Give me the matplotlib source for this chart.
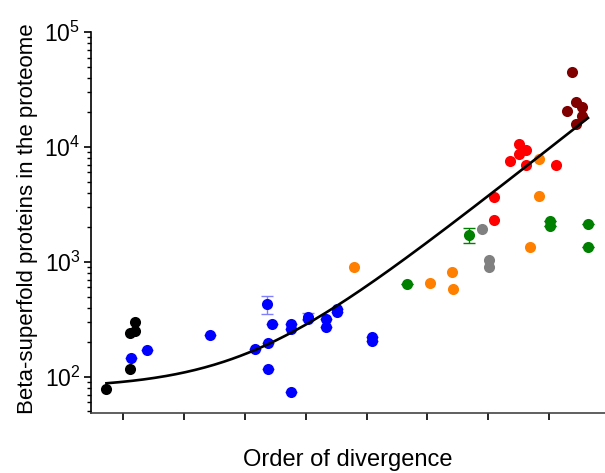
import matplotlib
matplotlib.use("Agg")
import matplotlib.pyplot as plt
import numpy as np

plt.rcParams['font.family'] = ['Liberation Sans', 'DejaVu Sans']
plt.rcParams['mathtext.fontset'] = 'custom'
plt.rcParams['mathtext.rm'] = 'Liberation Sans'

# values (x = order of divergence, y = protein count)
black_x = [0.71, 1.10, 1.10, 1.19, 1.19]
black_y = [79, 117, 243, 253, 301]

blue_x = [1.12, 1.38, 2.43, 3.17, 3.36, 3.44, 3.38, 3.38, 3.75, 3.76, 3.76,
          4.03, 4.04, 4.33, 4.33, 4.51, 4.51, 5.09, 5.09]
blue_y = [145, 172, 233, 174, 429, 287, 196, 117, 74, 289, 263,
          335, 319, 318, 274, 387, 368, 221, 207]
blue_err = [0, 0, 0, 0, 75, 0, 0, 0, 0, 0, 0,
            25, 0, 0, 0, 0, 0, 0, 0]

orange_x = [4.79, 6.04, 6.41, 6.42, 7.84, 7.84, 7.68]
orange_y = [910, 650, 824, 582, 7820, 3775, 1342]

green_x = [5.67, 6.68, 8.02, 8.02, 8.64, 8.64]
green_y = [647, 1706, 2290, 2056, 2127, 1358]
green_err = [0, 250, 0, 0, 0, 0]

grey_x = [6.89, 7.02, 7.02]
grey_y = [1950, 1040, 900]

red_x = [7.10, 7.10, 7.35, 7.51, 7.62, 7.51, 7.62, 8.11]
red_y = [3700, 2320, 7550, 10600, 9420, 8650, 6970, 6970]

darkred_x = [8.37, 8.44, 8.54, 8.29, 8.54, 8.44]
darkred_y = [44600, 24480, 22130, 20560, 18720, 15850]

# fitted curve y = c0 + a * exp(k * x)
fit_c0, fit_a, fit_k = 79.2, 4.41, 0.961
fit_xmin, fit_xmax = 0.72, 8.64

fig = plt.figure(figsize=(6.05, 4.73), dpi=100)
ax = fig.add_axes([0.1512, 0.1279, 0.8488, 0.8044])

ms = 8
ax.errorbar(blue_x, blue_y, yerr=blue_err, fmt='none', ecolor='#8080ff',
            elinewidth=1, capsize=4, zorder=2)
ax.errorbar(green_x, green_y, yerr=green_err, fmt='none', ecolor='#008000',
            elinewidth=1, capsize=4, zorder=2)

groups = [(black_x, black_y, 'black'), (blue_x, blue_y, '#0000ff'),
          (orange_x, orange_y, '#ff8000'), (green_x, green_y, '#008000'),
          (grey_x, grey_y, '#808080'), (red_x, red_y, '#ff0000'),
          (darkred_x, darkred_y, '#800000')]
for gx, gy, col in groups:
    ax.plot(gx, gy, 'o', color=col, ms=ms, mec='none', zorder=3)

xs = np.linspace(fit_xmin, fit_xmax, 300)
ax.plot(xs, fit_c0 + fit_a * np.exp(fit_k * xs), color='black', lw=1.9, zorder=4)

ax.set_yscale('log')
ax.set_ylim(49, 1e5)
ax.set_xlim(0.474, 8.92)
ax.set_xticks(range(1, 9))
ax.set_xticklabels([])
ax.set_yticks([1e2, 1e3, 1e4, 1e5])
ax.set_yticklabels([r'$10^{2}$', r'$10^{3}$', r'$10^{4}$', r'$10^{5}$'])

for s in ['top', 'right']:
    ax.spines[s].set_visible(False)
ax.spines['left'].set_linewidth(1.2)
ax.spines['bottom'].set_linewidth(1.2)
ax.spines['bottom'].set_color('#444444')

ax.tick_params(axis='both', which='major', direction='out', length=5, width=1.2,
               labelsize=16.5, pad=3)
ax.tick_params(axis='y', which='minor', direction='out', length=3, width=1)

ax.set_xlabel('Order of divergence', fontsize=17, labelpad=18)
ax.set_ylabel('Beta-superfold proteins in the proteome', fontsize=16)
ax.yaxis.set_label_coords(-0.104, 0.51)

fig.savefig('out.png', dpi=100)
